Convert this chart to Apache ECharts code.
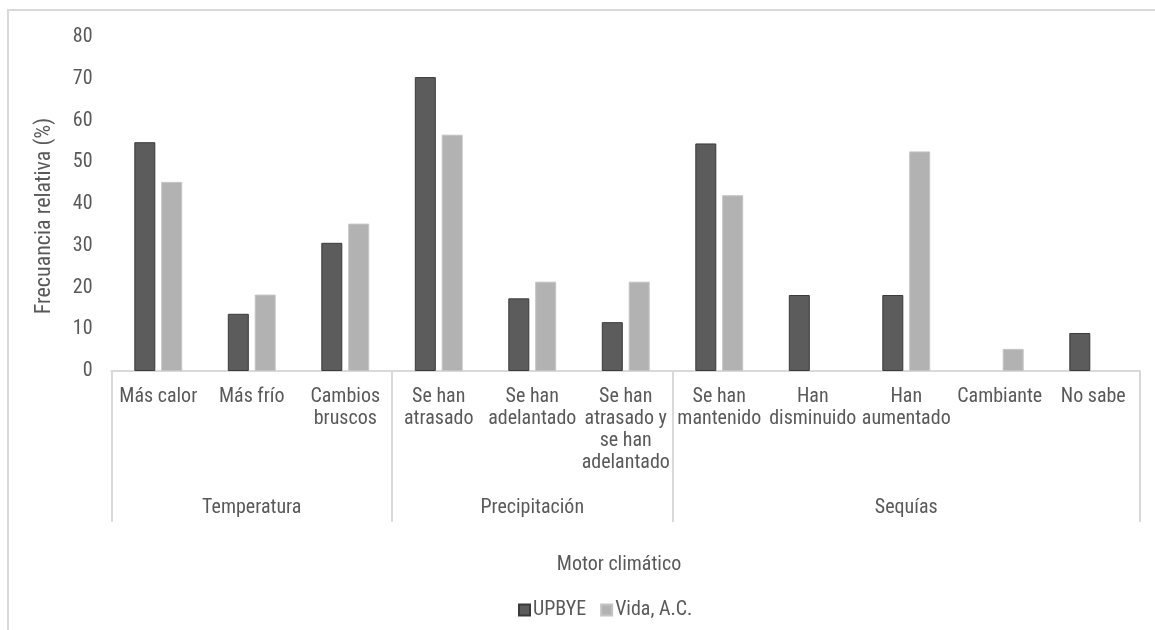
<!DOCTYPE html>
<html>
<head>
<meta charset="utf-8">
<script src="https://cdn.jsdelivr.net/npm/echarts@6/dist/echarts.min.js"></script>
<style>
  html, body { margin: 0; padding: 0; background: #ffffff; }
  #chart { width: 1155px; height: 630px; }
</style>
</head>
<body>
<div id="chart"></div>
<script>
// Sub-categories (x axis, first level)
const categories = [
  'Más calor', 'Más frío', 'Cambios\nbruscos',
  'Se han\natrasado', 'Se han\nadelantado', 'Se han\natrasado y\nse han\nadelantado',
  'Se han\nmantenido', 'Han\ndisminuido', 'Han\naumentado', 'Cambiante', 'No sabe'
];
// Climate drivers (x axis, second level) and how many sub-categories each spans
const groupNames = ['Temperatura', 'Precipitación', 'Sequías'];
const groupSizes = [3, 3, 5];

// Relative frequency (%) per respondent group
const upbye = [54.8, 13.7, 30.7, 70.4, 17.4, 11.7, 54.5, 18.2, 18.2, 0, 9.1];
const vida  = [45.3, 18.3, 35.3, 56.6, 21.4, 21.4, 42.1, 0, 52.6, 5.3, 0];

const yTicks = [0, 10, 20, 30, 40, 50, 60, 70, 80];

const FONT = "'Roboto Condensed', 'Liberation Sans Narrow', 'Arial Narrow', sans-serif";
const FS = 20;
const TXT = '#595959';
const LINE = '#d9d9d9';

// Index where each group starts, and the middle index used to place its label
const groupStarts = [];
const groupMiddles = {};
let acc = 0;
groupSizes.forEach((n, i) => {
  groupStarts.push(acc);
  groupMiddles[acc + Math.floor(n / 2)] = groupNames[i];
  acc += n;
});
const groupAxisData = categories.map((c, i) => groupMiddles[i] || '');

// Zero values leave no visible bar
const toBarData = arr => arr.map(v => v === 0 ? { value: 0, itemStyle: { borderWidth: 0 } } : v);

const chart = echarts.init(document.getElementById('chart'), null, { renderer: 'canvas' });
chart.setOption({
  animation: false,
  backgroundColor: '#ffffff',
  textStyle: { fontFamily: FONT },
  graphic: [{
    type: 'rect',
    shape: { x: 8, y: 10, width: 1300, height: 800 },
    style: { fill: 'none', stroke: LINE, lineWidth: 2 },
    z: -10
  }],
  title: {
    text: 'Motor climático',
    left: 614,
    top: 550,
    textAlign: 'center',
    textStyle: { fontFamily: FONT, fontSize: FS, fontWeight: 'normal', color: TXT }
  },
  legend: {
    left: 513,
    top: 595,
    itemWidth: 11,
    itemHeight: 11,
    itemGap: 14,
    icon: 'rect',
    textStyle: { fontFamily: FONT, fontSize: FS, color: TXT, padding: [0, 0, 0, -2] },
    data: ['UPBYE', 'Vida, A.C.']
  },
  grid: { left: 111.5, right: 15, top: 37, bottom: 259, containLabel: false },
  xAxis: [{
    type: 'category',
    data: categories,
    axisLine: { show: true, lineStyle: { color: LINE, width: 2 } },
    axisTick: {
      show: true,
      length: 151,
      interval: idx => groupStarts.indexOf(idx) >= 0,
      lineStyle: { color: LINE, width: 2 }
    },
    axisLabel: {
      interval: 0,
      margin: 15,
      fontFamily: FONT,
      fontSize: FS,
      lineHeight: 22,
      color: TXT,
      align: 'center',
      verticalAlign: 'top'
    }
  }, {
    type: 'category',
    data: groupAxisData,
    position: 'bottom',
    axisLine: { show: false },
    axisTick: { show: false },
    axisLabel: {
      interval: 0,
      margin: 126,
      fontFamily: FONT,
      fontSize: FS,
      lineHeight: 22,
      color: TXT
    }
  }],
  yAxis: {
    type: 'value',
    min: yTicks[0],
    max: yTicks[yTicks.length - 1],
    interval: 10,
    name: 'Frecuancia relativa (%)',
    nameLocation: 'middle',
    nameGap: 56,
    nameTextStyle: { fontFamily: FONT, fontSize: 22, color: TXT, padding: [0, 24, 0, 0] },
    axisLine: { show: false },
    axisTick: { show: false },
    splitLine: { show: false },
    axisLabel: { margin: 19, fontFamily: FONT, fontSize: FS, color: TXT }
  },
  series: [{
    name: 'UPBYE',
    type: 'bar',
    data: toBarData(upbye),
    barWidth: 21,
    barGap: '28%',
    itemStyle: { color: '#5c5c5c', borderColor: '#3a3a3a', borderWidth: 1 }
  }, {
    name: 'Vida, A.C.',
    type: 'bar',
    data: toBarData(vida),
    barWidth: 21,
    barGap: '28%',
    itemStyle: { color: '#b2b2b2', borderColor: '#c4c4c4', borderWidth: 1 }
  }]
});
</script>
</body>
</html>
